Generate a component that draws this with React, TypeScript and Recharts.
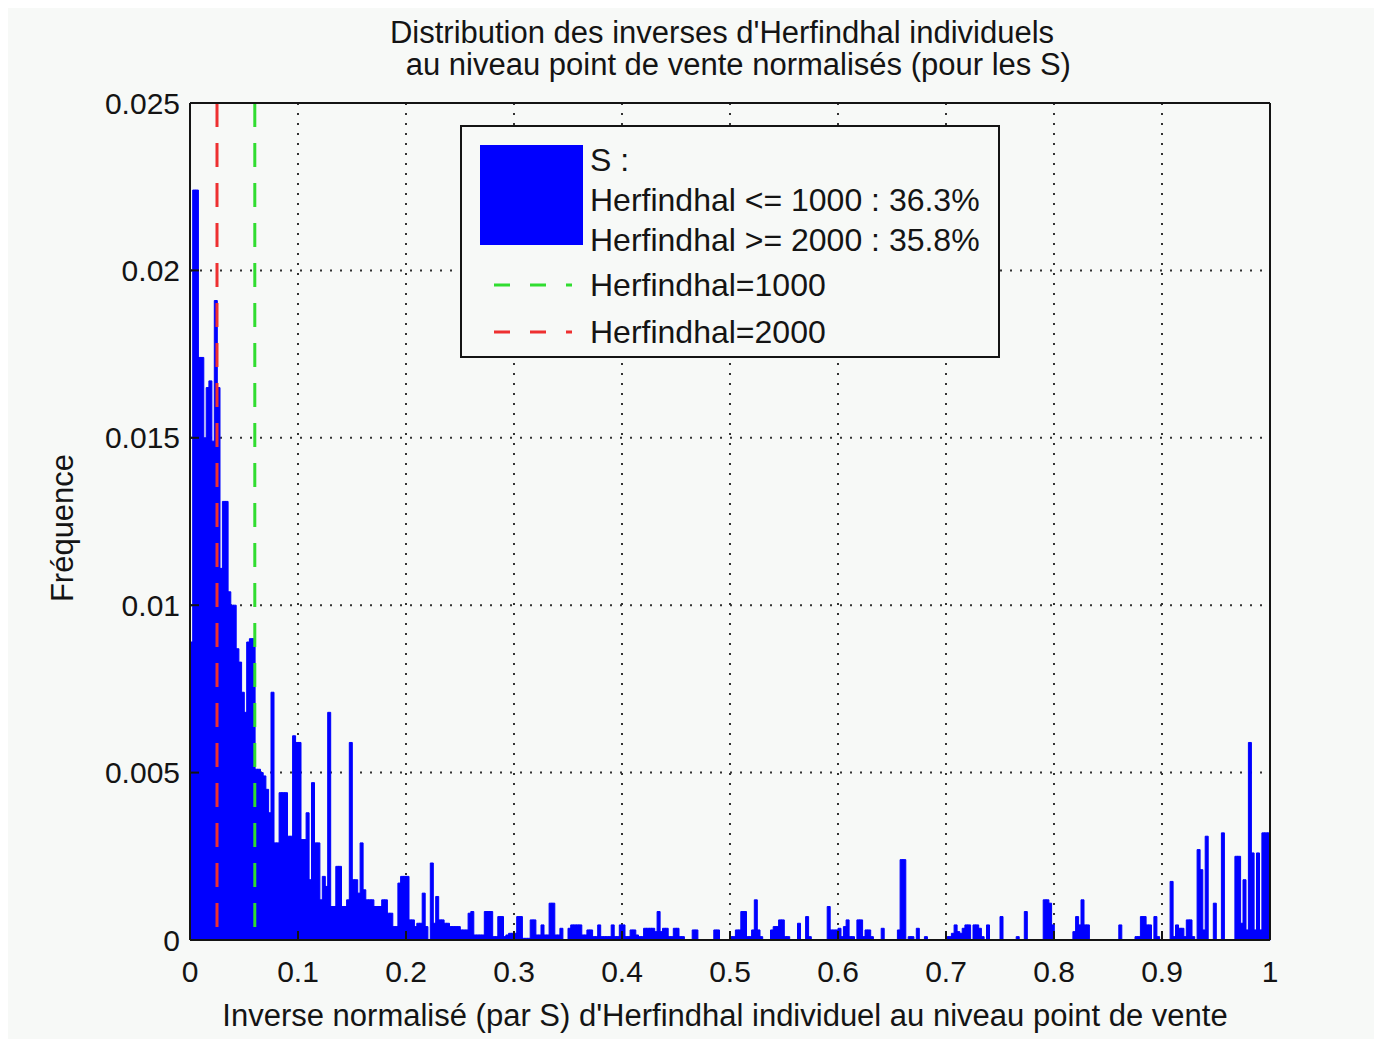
import React from 'react';
import { ComposedChart, Bar, XAxis, YAxis, CartesianGrid, ReferenceLine, Legend } from 'recharts';

// histogram bin width (400 bins on [0, 1])
const BIN = 0.0025;

// frequencies per bin, one array per 0.1 of the x range
const seg0 = [
  0.0089, 0.0224, 0.0224, 0.0174, 0.0174, 0.0150, 0.0165, 0.0167, 0.0149, 0.0191,
  0.0165, 0.0111, 0.0131, 0.0131, 0.0104, 0.0100, 0.0100, 0.0087, 0.0083, 0.0074,
  0.0068, 0.0089, 0.0090, 0.0090, 0.0051, 0.0051, 0.0050, 0.0049, 0.0045, 0.0038,
  0.0074, 0.0029, 0.0029, 0.0044, 0.0044, 0.0044, 0.0031, 0.0031, 0.0061, 0.0059,
];
const seg1 = [
  0.0059, 0.0030, 0.0030, 0.0038, 0.0018, 0.0047, 0.0029, 0.0029, 0.0012, 0.0019,
  0.0016, 0.0068, 0.0010, 0.0010, 0.0022, 0.0022, 0.0010, 0.0010, 0.0012, 0.0059,
  0.0018, 0.0018, 0.0014, 0.0029, 0.0015, 0.0012, 0.0012, 0.0012, 0.0010, 0.0010,
  0.0010, 0.0012, 0.0012, 0.0008, 0.0008, 0.0004, 0.0004, 0.0017, 0.0019, 0.0019,
];
const seg2 = [
  0.0019, 0.0006, 0.0006, 0.0004, 0.0005, 0.0005, 0.0014, 0.0004, 0, 0.0023,
  0.0005, 0.0013, 0.0006, 0.0006, 0.0005, 0.0005, 0.0004, 0.0004, 0.0004, 0.0004,
  0.0003, 0.0003, 0.0003, 0.0008, 0.00085, 0.00015, 0.00015, 0.00015, 0.00015, 0.00085,
  0.00085, 0.00085, 0.0001, 0.0001, 0.0007, 0.0007, 0.0001, 0.00015, 0.0002, 0.0002,
];
const seg3 = [
  0.0002, 0.0007, 0.0007, 0.00005, 0.00005, 0.00005, 0.0006, 0.0006, 0.00015, 0.00015,
  0.00045, 0.00015, 0.00015, 0.0011, 0.0011, 0.00015, 0.00015, 0.00035, 0, 0,
  0.00035, 0.00045, 0.00045, 0.00045, 0.00045, 0.00015, 0.00015, 0.0003, 0.0003, 0.0001,
  0.0001, 0.00045, 0.0001, 0.0001, 0.0001, 0.0001, 0.00045, 0.0001, 0.0001, 0.00045,
];
const seg4 = [
  0.00045, 0.0001, 0.0001, 0.0003, 0.0003, 0.00015, 0.0001, 0.0001, 0.00035, 0.00035,
  0.00035, 0.00035, 0.00025, 0.00085, 0.00025, 0.00035, 0.00035, 0.0001, 0.0001, 0.00035,
  0.00035, 0.0001, 0.0001, 0, 0, 0, 0.0003, 0.0003, 0, 0,
  0, 0, 0, 0, 0.0003, 0.0003, 0, 0, 0, 0,
];
const seg5 = [
  0.0001, 0.0001, 0.0003, 0.0003, 0.00085, 0.00085, 0.0001, 0.0001, 0.0003, 0.0012,
  0.0003, 0.0001, 0, 0, 0, 0.0003, 0.0004, 0.0004, 0.0006, 0.0006,
  0.0001, 0.0001, 0, 0, 0, 0.0005, 0, 0, 0.0007, 0.0001,
  0, 0, 0, 0, 0, 0, 0.0010, 0.0003, 0.0003, 0.0003,
];
const seg6 = [
  0.00035, 0.0001, 0.0004, 0.0006, 0.0001, 0.0001, 0, 0.0006, 0.0006, 0.0001,
  0.0003, 0.0003, 0.0001, 0, 0, 0, 0.00035, 0, 0, 0,
  0, 0, 0.0003, 0.0024, 0.0024, 0, 0.0001, 0.0001, 0, 0.00035,
  0, 0, 0.0001, 0, 0, 0, 0, 0, 0, 0,
];
const seg7 = [
  0.0001, 0.0001, 0.0002, 0.00045, 0.00025, 0.0002, 0.00035, 0.00045, 0.00045, 0,
  0.00045, 0.00045, 0.00035, 0.0001, 0, 0.00045, 0, 0, 0, 0,
  0.0007, 0, 0, 0, 0, 0, 0.0001, 0, 0, 0.00085,
  0, 0, 0, 0, 0, 0, 0.0012, 0.0012, 0.0011, 0.00045,
];
const seg8 = [
  0, 0, 0, 0, 0, 0, 0, 0.00025, 0.0007, 0.00045,
  0.0012, 0.00045, 0.00045, 0, 0, 0, 0, 0, 0, 0,
  0, 0, 0, 0, 0.00045, 0, 0, 0, 0, 0,
  0.0001, 0.0001, 0.0007, 0.0007, 0.00045, 0.00045, 0, 0.0007, 0.0001, 0,
];
const seg9 = [
  0, 0, 0, 0.00175, 0.0001, 0.00045, 0.00035, 0.00035, 0.0001, 0.0006,
  0.0006, 0.0001, 0, 0.0027, 0.0021, 0.0003, 0.0031, 0, 0, 0.0011,
  0, 0, 0.0032, 0, 0, 0, 0, 0.0025, 0.0025, 0.0005,
  0.0018, 0.0003, 0.0059, 0.0026, 0.0003, 0.0026, 0.0003, 0.0032, 0.0032, 0.0032,
];

const xTicks = [0, 0.1, 0.2, 0.3, 0.4, 0.5, 0.6, 0.7, 0.8, 0.9, 1];
const xTickLabels = ['0', '0.1', '0.2', '0.3', '0.4', '0.5', '0.6', '0.7', '0.8', '0.9', '1'];
const yTicks = [0, 0.005, 0.01, 0.015, 0.02, 0.025];
const yTickLabels = ['0', '0.005', '0.01', '0.015', '0.02', '0.025'];

// vertical markers (normalised inverse of Herfindahl thresholds)
const herf1000 = 0.06;
const herf2000 = 0.025;

const titleLines = [
  "Distribution des inverses d'Herfindhal individuels",
  ' au niveau point de vente normalisés (pour les S)',
];
const xLabel = "Inverse normalisé (par S) d'Herfindhal individuel au niveau point de vente";
const yLabel = 'Fréquence';
const legendBar = ['S :', 'Herfindhal <= 1000 : 36.3%', 'Herfindhal >= 2000 : 35.8%'];
const legendLines = ['Herfindhal=1000', 'Herfindhal=2000'];

const FONT = '"Liberation Sans", Arial, sans-serif';
const BLUE = '#0000ff';
const RED = '#ee3030';
const GREEN = '#30dd30';
const BG = '#f7f9f7';
const INK = '#141414';

const data = [seg0, seg1, seg2, seg3, seg4, seg5, seg6, seg7, seg8, seg9]
  .flat()
  .map((freq, i) => ({ x: (i + 0.5) * BIN, freq }));

const XTick = (p: any) => (
  <text x={p.x} y={p.y + 40} textAnchor="middle" dominantBaseline="central"
    fontSize={30} fontFamily={FONT} fill={INK}>
    {xTickLabels[xTicks.indexOf(p.payload.value)]}
  </text>
);

const YTick = (p: any) => (
  <text x={p.x - 19} y={p.y} textAnchor="end" dominantBaseline="central"
    fontSize={30} fontFamily={FONT} fill={INK}>
    {yTickLabels[yTicks.indexOf(p.payload.value)]}
  </text>
);

const LegendBox = () => (
  <div style={{
    boxSizing: 'border-box', width: 540, height: 233, border: `2px solid ${INK}`,
    background: BG, position: 'relative', fontFamily: FONT, fontSize: 32, color: INK,
  }}>
    <div style={{ position: 'absolute', left: 18, top: 18, width: 103, height: 100, background: BLUE }} />
    {legendBar.map((t, i) => (
      <div key={t} style={{ position: 'absolute', left: 128, top: 13 + i * 40, lineHeight: '40px', whiteSpace: 'pre' }}>{t}</div>
    ))}
    {legendLines.map((t, i) => (
      <div key={t} style={{ position: 'absolute', left: 128, top: 138 + i * 47, lineHeight: '40px' }}>{t}</div>
    ))}
    <svg style={{ position: 'absolute', left: 0, top: 0 }} width={540} height={233}>
      <line x1={32} x2={110} y1={158} y2={158} stroke={GREEN} strokeWidth={3} strokeDasharray="16 20" />
      <line x1={32} x2={110} y1={205} y2={205} stroke={RED} strokeWidth={3} strokeDasharray="16 20" />
    </svg>
  </div>
);

export default function App() {
  return (
    <div style={{ position: 'relative', width: 1366, height: 1031, background: BG, fontFamily: FONT, color: INK }}>
      {titleLines.map((t, i) => (
        <div key={i} style={{
          position: 'absolute', left: i === 0 ? 714 : 726, top: 24 + i * 32, transform: 'translate(-50%, -50%)',
          fontSize: 31, whiteSpace: 'pre', lineHeight: 1,
        }}>{t}</div>
      ))}
      <div style={{
        position: 'absolute', left: 54, top: 520, transform: 'translate(-50%, -50%) rotate(-90deg)',
        fontSize: 31, whiteSpace: 'nowrap', lineHeight: 1,
      }}>{yLabel}</div>
      <div style={{
        position: 'absolute', left: 717, top: 1007, transform: 'translate(-50%, -50%)',
        fontSize: 31, whiteSpace: 'nowrap', lineHeight: 1,
      }}>{xLabel}</div>

      <ComposedChart
        width={1366}
        height={1031}
        data={data}
        margin={{ top: 95, right: 104, bottom: 99, left: 182 }}
        barCategoryGap={0}
        barGap={0}
        style={{ position: 'absolute', left: 0, top: 0 }}
      >
        <CartesianGrid stroke="#333" strokeWidth={2} strokeDasharray="2 8" />
        <XAxis dataKey="x" type="number" domain={[0, 1]} ticks={xTicks} mirror
          tickSize={9} tickMargin={0} tick={<XTick />}
          axisLine={{ stroke: INK, strokeWidth: 2 }} tickLine={{ stroke: INK, strokeWidth: 2 }} />
        <XAxis xAxisId="top" orientation="top" type="number" domain={[0, 1]} ticks={xTicks} mirror
          tickSize={9} tick={false} height={10}
          axisLine={{ stroke: INK, strokeWidth: 2 }} tickLine={{ stroke: INK, strokeWidth: 2 }} />
        <YAxis type="number" domain={[0, 0.025]} ticks={yTicks} mirror
          tickSize={9} tickMargin={0} tick={<YTick />}
          axisLine={{ stroke: INK, strokeWidth: 2 }} tickLine={{ stroke: INK, strokeWidth: 2 }} />
        <YAxis yAxisId="right" orientation="right" type="number" domain={[0, 0.025]} ticks={yTicks} mirror
          tickSize={9} tick={false} width={10}
          axisLine={{ stroke: INK, strokeWidth: 2 }} tickLine={{ stroke: INK, strokeWidth: 2 }} />
        <Bar dataKey="freq" fill={BLUE} stroke={BLUE} strokeWidth={1} isAnimationActive={false} />
        <ReferenceLine x={herf2000} stroke={RED} strokeWidth={3} strokeDasharray="24 16" strokeDashoffset={27} />
        <ReferenceLine x={herf1000} stroke={GREEN} strokeWidth={3} strokeDasharray="24 16" strokeDashoffset={27} />
        <Legend layout="horizontal" verticalAlign="middle" align="center"
          wrapperStyle={{ position: 'absolute', top: 117, left: 452, width: 540, height: 233 }}
          content={<LegendBox />} />
      </ComposedChart>
    </div>
  );
}
